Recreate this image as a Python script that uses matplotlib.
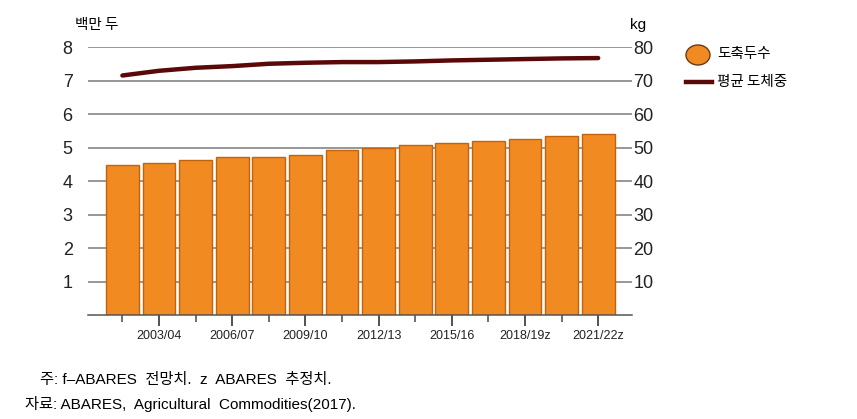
import matplotlib.pyplot as plt
from matplotlib.patches import Ellipse
from matplotlib.lines import Line2D

plt.rcParams['font.family'] = ['Liberation Sans', 'Noto Sans CJK KR', 'DejaVu Sans']

# 도축두수 (백만 두), 평균 도체중 (kg)
tick_labels = ['', '2003/04', '', '2006/07', '', '2009/10', '', '2012/13',
               '', '2015/16', '', '2018/19z', '', '2021/22z']
slaughter = [4.47, 4.55, 4.64, 4.73, 4.73, 4.77, 4.93, 5.00, 5.08, 5.12,
             5.20, 5.26, 5.35, 5.41]
carcass = [71.5, 72.9, 73.8, 74.3, 75.0, 75.3, 75.5, 75.5, 75.7, 76.0,
           76.2, 76.4, 76.6, 76.7]

bar_color = '#F28A22'
edge_color = '#C2620F'
line_color = '#5A0808'

fig = plt.figure(figsize=(8.57, 4.19), dpi=100)
ax = fig.add_axes([0.1027, 0.2482, 0.635, 0.6396])

x = list(range(len(slaughter)))
ax.bar(x, slaughter, width=0.9, color=bar_color, edgecolor=edge_color,
       linewidth=1, zorder=2)
ax.set_ylim(0, 8)
ax.set_xlim(-0.94, 13.93)
ax.set_yticks([1, 2, 3, 4, 5, 6, 7, 8])
ax.yaxis.grid(True, color='#7a7a7a', linewidth=1.1, zorder=0)
ax.set_axisbelow(True)
for s in ['top', 'left', 'right']:
    ax.spines[s].set_visible(False)
ax.spines['bottom'].set_color('#555555')
ax.spines['bottom'].set_linewidth(1.1)
ax.tick_params(axis='y', length=0, pad=11, labelsize=13, labelcolor='#222222')

major = [i for i in x if tick_labels[i]]
minor = [i for i in x if not tick_labels[i]]
ax.set_xticks(major)
ax.set_xticklabels([tick_labels[i] for i in major], fontsize=9, color='#222222')
ax.set_xticks(minor, minor=True)
ax.tick_params(axis='x', which='major', length=8, width=1.2, color='#333333', pad=3)
ax.tick_params(axis='x', which='minor', length=5, width=1.2, color='#555555')

ax2 = ax.twinx()
ax2.plot(x, carcass, color=line_color, linewidth=3.2, solid_capstyle='round', zorder=3)
ax2.set_ylim(0, 80)
ax2.set_yticks([10, 20, 30, 40, 50, 60, 70, 80])
for s in ax2.spines.values():
    s.set_visible(False)
ax2.tick_params(axis='y', length=0, pad=1, labelsize=13, labelcolor='#222222')

kr = ['Noto Sans CJK KR', 'DejaVu Sans']
mix = ['Liberation Sans', 'Noto Sans CJK KR', 'DejaVu Sans']
fig.text(75 / 857, 1 - 25 / 419, '백만 두', family=kr, fontsize=10.5, va='center', ha='left')
fig.text(630 / 857, 1 - 25 / 419, 'kg', fontsize=11, va='center', ha='left')

# legend
fig.patches.append(Ellipse((698 / 857, 1 - 55 / 419), 24 / 857, 20 / 419,
                           transform=fig.transFigure, facecolor=bar_color,
                           edgecolor='#6b3a10', linewidth=1))
fig.lines.append(Line2D([686 / 857, 712 / 857], [1 - 82 / 419, 1 - 82 / 419],
                        transform=fig.transFigure, color=line_color, linewidth=3.2))
fig.text(717 / 857, 1 - 54 / 419, '도축두수', family=kr, fontsize=10.5, va='center')
fig.text(717 / 857, 1 - 82 / 419, '평균 도체중', family=kr, fontsize=10.5, va='center')

fig.text(40 / 857, 1 - 380 / 419, '주: f–ABARES  전망치.  z  ABARES  추정치.',
         family=mix, fontsize=11, va='center')
fig.text(25 / 857, 1 - 404 / 419, '자료: ABARES,  Agricultural  Commodities(2017).',
         family=mix, fontsize=11, va='center')

fig.savefig('out.png', dpi=100)
